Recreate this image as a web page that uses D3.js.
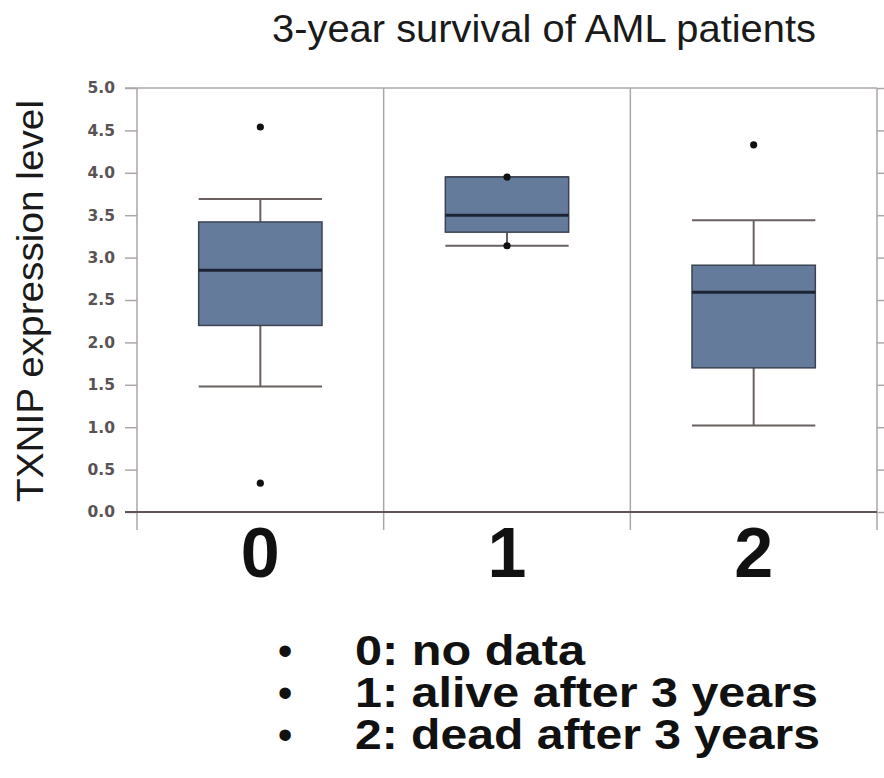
<!DOCTYPE html>
<html>
<head>
<meta charset="utf-8">
<script src="https://cdn.jsdelivr.net/npm/d3@7"></script>
<style>
  html, body { margin: 0; padding: 0; background: #fff; }
  svg { display: block; }
</style>
</head>
<body>
<svg id="chart" width="884" height="778"></svg>
<script>
// Survival groups and their TXNIP box-plot summaries
const categories = ["0", "1", "2"];
const whiskerLow = [1.48, 3.14, 1.02];
const q1 = [2.20, 3.30, 1.70];
const median = [2.85, 3.50, 2.59];
const q3 = [3.42, 3.95, 2.91];
const whiskerHigh = [3.69, 3.95, 3.44];
const outliers = [[4.54, 0.34], [3.95, 3.14], [4.33]];

const yTicks = [0, 0.5, 1, 1.5, 2, 2.5, 3, 3.5, 4, 4.5, 5];
const legendItems = ["0: no data", "1: alive after 3 years", "2: dead after 3 years"];
const titleText = "3-year survival of AML patients";
const yLabel = "TXNIP expression level";

const boxes = categories.map((c, i) => ({
  cat: c, lo: whiskerLow[i], q1: q1[i], med: median[i], q3: q3[i], hi: whiskerHigh[i], pts: outliers[i]
}));

const svg = d3.select("#chart");

const plotLeft = 137, plotRight = 877, plotTop = 88, plotBottom = 512;
const x = d3.scaleBand().domain(categories).range([plotLeft, plotRight]).padding(0);
const y = d3.scaleLinear().domain([0, 5]).range([plotBottom, plotTop]);

const gridColor = "#aca6a6";

// Frame: top border
svg.append("line")
  .attr("x1", plotLeft - 12).attr("x2", plotRight).attr("y1", y(5)).attr("y2", y(5))
  .attr("stroke", gridColor).attr("stroke-width", 1.5);

// Vertical separators at band edges (extend below the baseline)
const edges = categories.map(c => x(c)).concat([plotRight]);
svg.append("g").selectAll("line").data(edges).join("line")
  .attr("x1", d => d).attr("x2", d => d)
  .attr("y1", y(5)).attr("y2", plotBottom + 18)
  .attr("stroke", gridColor).attr("stroke-width", 1.5);

// Left value axis
const yAxis = svg.append("g")
  .attr("transform", `translate(${plotLeft},0)`)
  .call(d3.axisLeft(y).tickValues(yTicks).tickFormat(d3.format(".1f")).tickSize(12).tickPadding(10));
yAxis.select(".domain").remove();
yAxis.selectAll(".tick line").attr("stroke", gridColor).attr("stroke-width", 1.5);
yAxis.selectAll(".tick text")
  .attr("fill", "#5a5353")
  .style("font-family", "'DejaVu Sans', sans-serif")
  .style("font-weight", "bold")
  .style("font-size", "15.5px");

// Right-side ticks
const yAxisR = svg.append("g")
  .attr("transform", `translate(${plotRight},0)`)
  .call(d3.axisRight(y).tickValues(yTicks).tickFormat("").tickSize(12));
yAxisR.select(".domain").remove();
yAxisR.selectAll(".tick line").attr("stroke", gridColor).attr("stroke-width", 1.5);

// Baseline
svg.append("line")
  .attr("x1", plotLeft - 12).attr("x2", plotRight).attr("y1", y(0)).attr("y2", y(0))
  .attr("stroke", "#5e5454").attr("stroke-width", 1.8);

// Box plots
const bw = x.bandwidth() * 0.5;
const g = svg.append("g").selectAll("g").data(boxes).join("g")
  .attr("transform", d => `translate(${x(d.cat) + x.bandwidth() / 2},0)`);

const whiskerColor = "#6a6060";
g.append("line")
  .attr("x1", 0).attr("x2", 0).attr("y1", d => y(d.hi)).attr("y2", d => y(d.q3))
  .attr("stroke", whiskerColor).attr("stroke-width", 2);
g.append("line")
  .attr("x1", 0).attr("x2", 0).attr("y1", d => y(d.q1)).attr("y2", d => y(d.lo))
  .attr("stroke", whiskerColor).attr("stroke-width", 2);
g.append("line")
  .attr("x1", -bw / 2).attr("x2", bw / 2).attr("y1", d => y(d.hi)).attr("y2", d => y(d.hi))
  .attr("stroke", whiskerColor).attr("stroke-width", 2);
g.append("line")
  .attr("x1", -bw / 2).attr("x2", bw / 2).attr("y1", d => y(d.lo)).attr("y2", d => y(d.lo))
  .attr("stroke", whiskerColor).attr("stroke-width", 2);

g.append("rect")
  .attr("x", -bw / 2).attr("width", bw)
  .attr("y", d => y(d.q3)).attr("height", d => y(d.q1) - y(d.q3))
  .attr("fill", "#657b9b").attr("stroke", "#3b4352").attr("stroke-width", 1.5);

g.append("line")
  .attr("x1", -bw / 2).attr("x2", bw / 2).attr("y1", d => y(d.med)).attr("y2", d => y(d.med))
  .attr("stroke", "#1c2434").attr("stroke-width", 3);

g.selectAll("circle").data(d => d.pts).join("circle")
  .attr("cx", 0).attr("cy", v => y(v)).attr("r", 3.6)
  .attr("fill", "#111");

// Category labels
svg.append("g").selectAll("text").data(categories).join("text")
  .attr("x", d => x(d) + x.bandwidth() / 2)
  .attr("y", 577)
  .attr("text-anchor", "middle")
  .style("font-family", "'Liberation Sans', Arial, sans-serif")
  .style("font-weight", "bold")
  .style("font-size", "70px")
  .attr("fill", "#111")
  .text(d => d);

// Title
svg.append("text")
  .attr("x", 272).attr("y", 42)
  .attr("textLength", 544).attr("lengthAdjust", "spacingAndGlyphs")
  .style("font-family", "'Liberation Sans', Arial, sans-serif")
  .style("font-size", "38.5px")
  .attr("fill", "#1a1a1a")
  .text(titleText);

// Y axis title
svg.append("text")
  .attr("transform", "translate(43,301) rotate(-90)")
  .attr("text-anchor", "middle")
  .attr("textLength", 402).attr("lengthAdjust", "spacingAndGlyphs")
  .style("font-family", "'Liberation Sans', Arial, sans-serif")
  .style("font-size", "37px")
  .attr("fill", "#1a1a1a")
  .text(yLabel);

// Legend list
const legendWidths = [230, 463, 465];
const leg = svg.append("g").selectAll("g").data(legendItems).join("g")
  .attr("transform", (d, i) => `translate(0,${664.5 + i * 42.2})`);
leg.append("text")
  .attr("x", 285).attr("y", 0)
  .attr("text-anchor", "middle")
  .style("font-family", "'Liberation Sans', Arial, sans-serif")
  .style("font-size", "42px")
  .attr("fill", "#111")
  .text("\u2022");
leg.append("text")
  .attr("x", 355).attr("y", 0)
  .attr("textLength", (d, i) => legendWidths[i]).attr("lengthAdjust", "spacingAndGlyphs")
  .style("font-family", "'Liberation Sans', Arial, sans-serif")
  .style("font-weight", "bold")
  .style("font-size", "42.5px")
  .attr("fill", "#111")
  .text(d => d);
</script>
</body>
</html>
